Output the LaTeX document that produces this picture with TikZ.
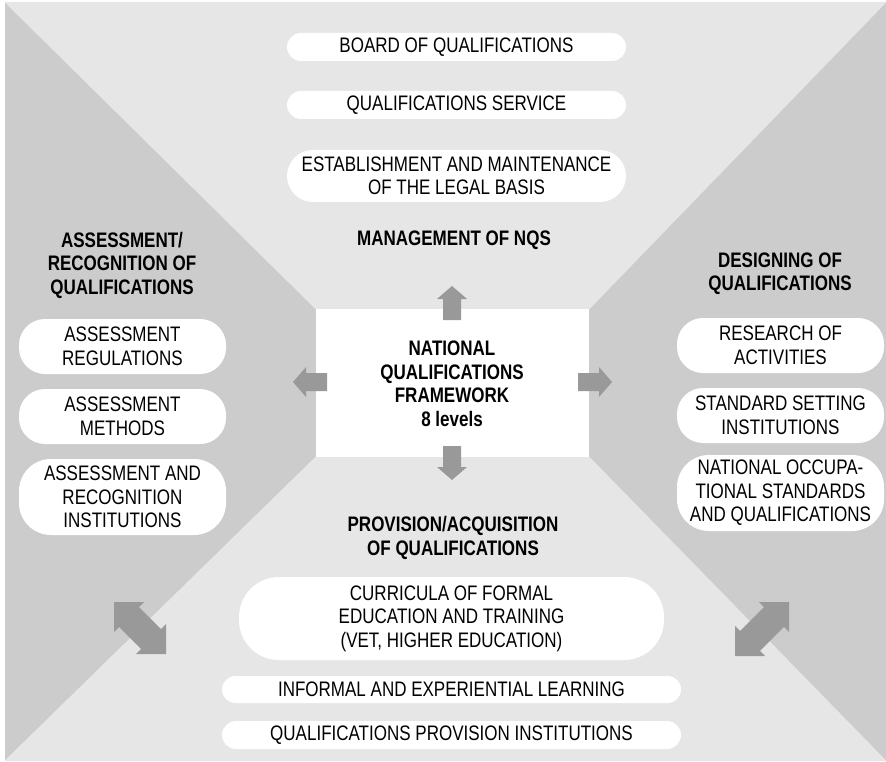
\documentclass[tikz,border=0pt]{standalone}
\usepackage{fontspec}
\setmainfont{Liberation Sans}[FakeStretch=0.81]
\definecolor{lightbg}{HTML}{E6E6E6}
\definecolor{darkbg}{HTML}{CCCCCC}
\definecolor{arrowgray}{HTML}{999999}
\definecolor{seam}{HTML}{EBEBEB}
\newcommand\txtfont{\fontsize{21}{23.5}\selectfont}
\begin{document}
\begin{tikzpicture}[x=1pt,y=-1pt,
  pill/.style={fill=white, inner sep=0pt, align=center, font=\txtfont, text=black},
  sectitle/.style={align=center, font=\txtfont\bfseries, inner sep=0pt, text=black},
  blockarrow/.style={fill=arrowgray, draw=none}]
\useasboundingbox (0,0) rectangle (886,762);
% regions
\fill[lightbg] (5,2) -- (886,2) -- (589,309) -- (316,309) -- cycle;
\fill[darkbg] (5,2) -- (316,309) -- (316,457) -- (5,761) -- cycle;
\fill[lightbg] (5,761) -- (316,457) -- (589,457) -- (886,761) -- cycle;
\fill[darkbg] (886,2) -- (589,309) -- (589,457) -- (886,761) -- cycle;
\draw[seam, line width=0.6pt] (5,2) -- (316,309) (886,2) -- (589,309) (5,761) -- (316,457) (886,761) -- (589,457);
\fill[white] (316,309) rectangle (589,457);
% centre
\node[sectitle] (nqf) at (452,384) {NATIONAL\\QUALIFICATIONS\\FRAMEWORK\\8 levels};
% straight arrows
\fill[blockarrow] (443,320) -- (443,299) -- (437,299) -- (452,286) -- (467,299) -- (461,299) -- (461,320) -- cycle;
\fill[blockarrow] (443,446) -- (443,467) -- (437,467) -- (452,480) -- (467,467) -- (461,467) -- (461,446) -- cycle;
\fill[blockarrow] (327,373) -- (306,373) -- (306,367) -- (293,382) -- (306,397) -- (306,391) -- (327,391) -- cycle;
\fill[blockarrow] (578,373) -- (599,373) -- (599,367) -- (612,382) -- (599,397) -- (599,391) -- (578,391) -- cycle;
% diagonal double arrows
\fill[blockarrow] (114,602) -- (144,602) -- (138.9,607.1) -- (160.9,629.1) -- (166,624) -- (166,654) -- (136,654) -- (141.1,648.9) -- (119.1,626.9) -- (114,632) -- cycle;
\fill[blockarrow] (789,602) -- (789,632) -- (783.9,626.9) -- (759.9,650.9) -- (765,656) -- (735,656) -- (735,626) -- (740.1,631.1) -- (763.9,607.1) -- (759,602) -- cycle;
% top section
\node[pill, minimum width=339pt, minimum height=28pt, rounded corners=14pt] (board) at (456.5,47) {BOARD OF QUALIFICATIONS};
\node[pill, minimum width=339pt, minimum height=28pt, rounded corners=14pt] (service) at (456.5,105) {QUALIFICATIONS SERVICE};
\node[pill, minimum width=339pt, minimum height=52pt, rounded corners=26pt] (legal) at (456.5,176) {ESTABLISHMENT AND MAINTENANCE\\OF THE LEGAL BASIS};
\node[sectitle] (mgmt) at (454,240) {MANAGEMENT OF NQS};
% left section
\node[sectitle] (assess) at (122,265) {ASSESSMENT/\\RECOGNITION OF\\QUALIFICATIONS};
\node[pill, minimum width=207pt, minimum height=55pt, rounded corners=26pt] (areg) at (122.5,346.5) {ASSESSMENT\\REGULATIONS};
\node[pill, minimum width=207pt, minimum height=55pt, rounded corners=26pt] (ameth) at (122.5,416.5) {ASSESSMENT\\METHODS};
\node[pill, minimum width=207pt, minimum height=76pt, rounded corners=32pt] (ainst) at (122.5,497) {ASSESSMENT AND\\RECOGNITION\\INSTITUTIONS};
% right section
\node[sectitle] (design) at (780,273.5) {DESIGNING OF\\QUALIFICATIONS};
\node[pill, minimum width=207pt, minimum height=55pt, rounded corners=26pt] (research) at (780.5,345.5) {RESEARCH OF\\ACTIVITIES};
\node[pill, minimum width=207pt, minimum height=55pt, rounded corners=26pt] (stdset) at (780.5,415.5) {STANDARD SETTING\\INSTITUTIONS};
\node[pill, minimum width=207pt, minimum height=76pt, rounded corners=32pt] (nos) at (780.5,493) {NATIONAL OCCUPA-\\TIONAL STANDARDS\\AND QUALIFICATIONS};
% bottom section
\node[sectitle] (prov) at (453,538) {PROVISION/ACQUISITION\\OF QUALIFICATIONS};
\node[pill, minimum width=425pt, minimum height=83pt, rounded corners=40pt] (curr) at (451.5,618.5) {CURRICULA OF FORMAL\\EDUCATION AND TRAINING\\(VET, HIGHER EDUCATION)};
\node[pill, minimum width=459pt, minimum height=27pt, rounded corners=13.5pt] (informal) at (451.5,689.5) {INFORMAL AND EXPERIENTIAL LEARNING};
\node[pill, minimum width=459pt, minimum height=28pt, rounded corners=14pt] (provinst) at (451.5,735) {QUALIFICATIONS PROVISION INSTITUTIONS};
\end{tikzpicture}
\end{document}
